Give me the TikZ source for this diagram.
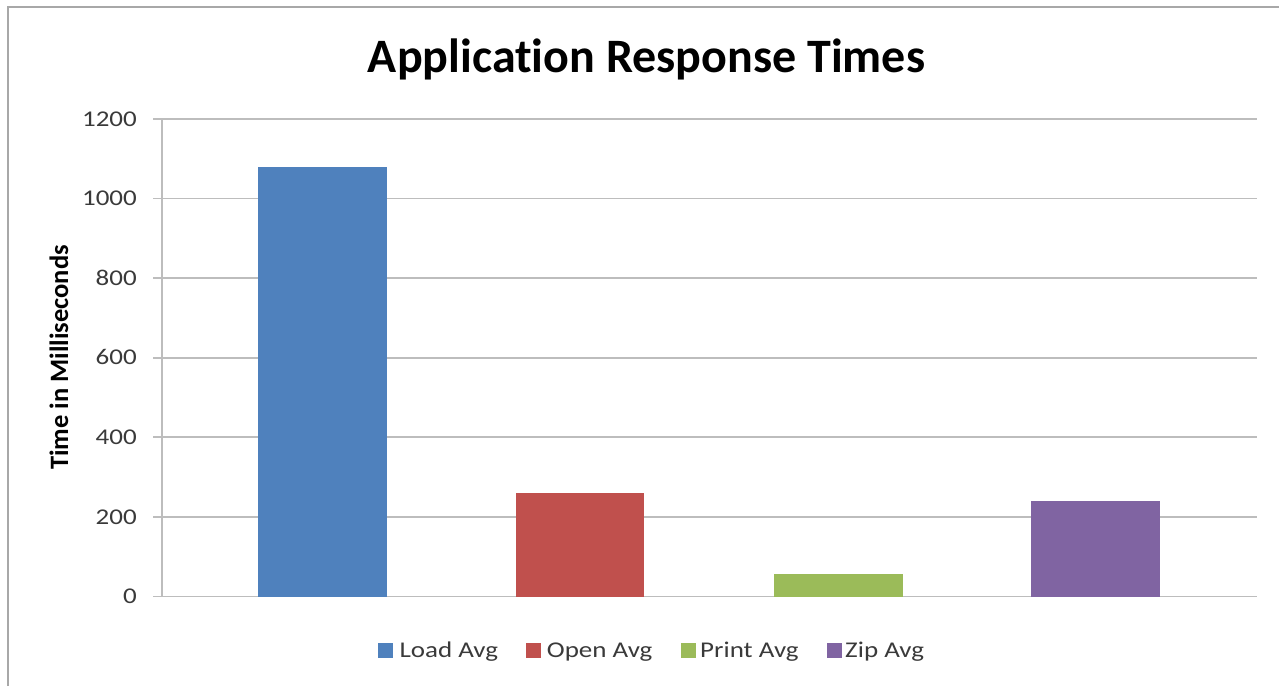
\documentclass[tikz,border=0pt]{standalone}
\usepackage{graphicx}
\usepackage{fontspec}
\setmainfont[Ligatures=NoCommon]{Carlito}
\definecolor{loadc}{HTML}{4F81BD}
\definecolor{openc}{HTML}{C0504D}
\definecolor{printc}{HTML}{9BBB59}
\definecolor{zipc}{HTML}{8064A2}
\definecolor{gridc}{HTML}{BDBDBD}
\definecolor{framec}{HTML}{A8A8A8}
\definecolor{labc}{HTML}{3A3A3A}
\newcommand{\wtext}[1]{\scalebox{1.2}[1]{#1}}
\tikzset{
  gridline/.style={draw=gridc, line width=1.6pt},
  ticklab/.style={anchor=base east, inner sep=0pt, text=labc, font=\fontsize{22.5}{26}\selectfont},
  leglab/.style={anchor=base west, inner sep=0pt, text=labc, font=\fontsize{22.5}{26}\selectfont},
}
\begin{document}
\begin{tikzpicture}[x=1pt,y=-1pt]
\useasboundingbox (0,0) rectangle (1279,686);
\fill[white] (0,0) rectangle (1279,686);
% frame
\draw[draw=framec, line width=2.5pt] (8,686) -- (8,7) -- (1279,7);
% title
\node[anchor=base, inner sep=0pt, font=\bfseries\fontsize{48}{56}\selectfont] (title) at (646.5,72) {Application Response Times};
% axis title
\node[anchor=base, rotate=90, inner sep=0pt, font=\bfseries\fontsize{26.5}{30}\selectfont] (ytitle) at (68,357.5) {Time in Milliseconds};
% grid and ticks
\foreach \v/\y in {0/596.5,200/516.8,400/437.2,600/357.7,800/278.0,1000/198.5,1200/119.0}{
  \draw[gridline] (153,\y) -- (1256.5,\y);
  \node[ticklab] (t\v) at (137,\y+7.2) {\wtext{\v}};
}
\draw[gridline] (162,119) -- (162,596.5);
% bars
\fill[loadc]  (257.7,596.5) rectangle (386.7,167.3);
\fill[openc]  (515.7,596.5) rectangle (644,493.3);
\fill[printc] (774,596.5) rectangle (902.7,574.3);
\fill[zipc]   (1031,596.5) rectangle (1160,501);
% legend
\fill[loadc]  (378.3,642.7) rectangle ++(15,15);
\node[leglab] (l1) at (399.3,657.7) {\wtext{Load Avg}};
\fill[openc]  (526,642.7) rectangle ++(15,15);
\node[leglab] (l2) at (546.7,657.7) {\wtext{Open Avg}};
\fill[printc] (680.7,642.7) rectangle ++(15,15);
\node[leglab] (l3) at (700,657.7) {\wtext{Print Avg}};
\fill[zipc]   (826.7,642.7) rectangle ++(15,15);
\node[leglab] (l4) at (845,657.7) {\wtext{Zip Avg}};
\end{tikzpicture}
\end{document}
